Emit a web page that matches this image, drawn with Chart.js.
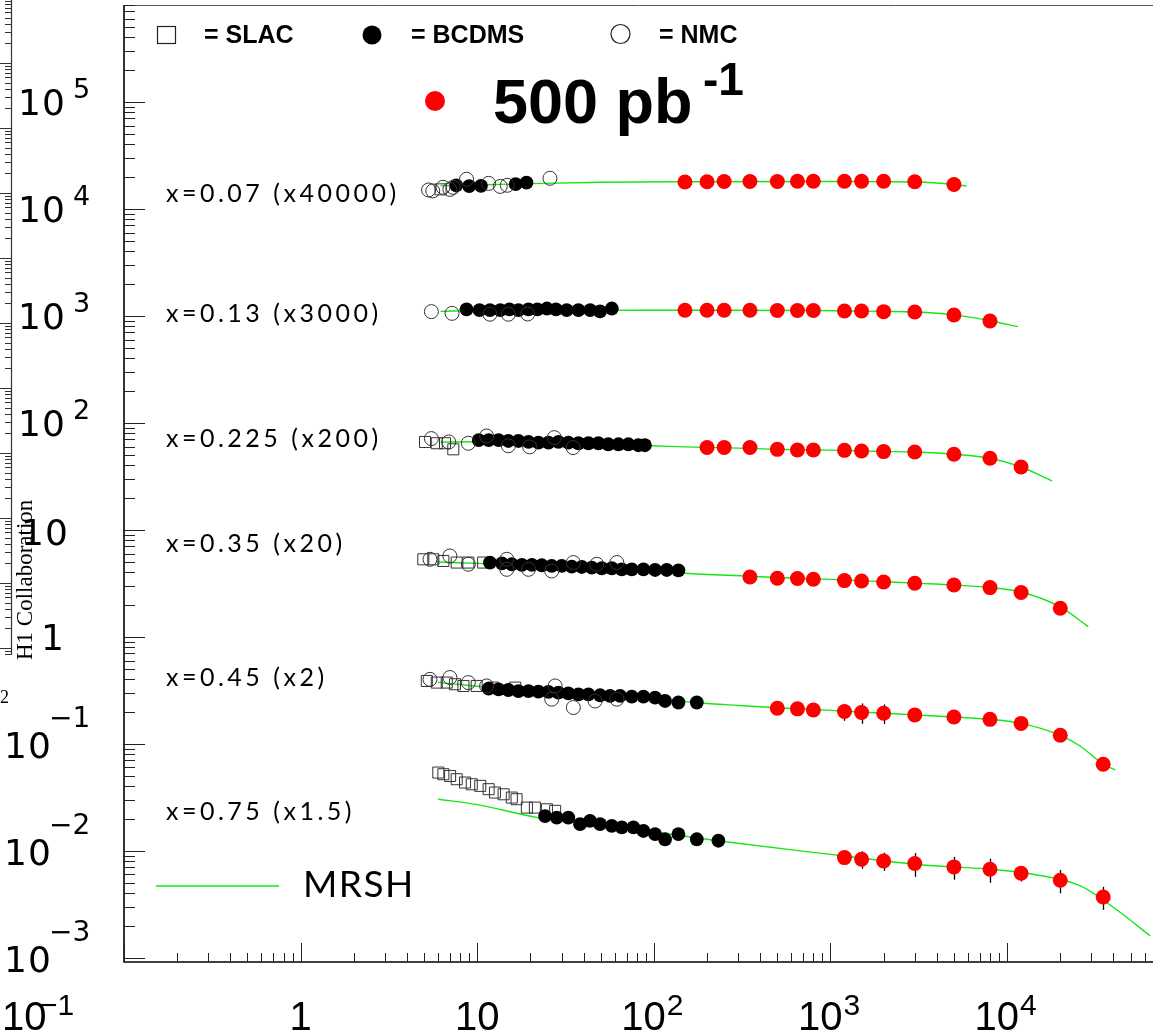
<!DOCTYPE html>
<html><head><meta charset="utf-8">
<script src="https://cdn.jsdelivr.net/npm/chart.js@4/dist/chart.umd.min.js"></script>
<style>html,body{margin:0;padding:0;background:#fff;overflow:hidden}canvas{display:block}</style>
</head><body><canvas id="c" width="1153" height="1035"></canvas>
<script>
// ---------------- DATA ----------------
const ROW_LABELS = ['x=0.07 (x40000)','x=0.13 (x3000)','x=0.225 (x200)','x=0.35 (x20)','x=0.45 (x2)','x=0.75 (x1.5)'];
const Y_TICK_EXP = [-3,-2,-1,0,1,2,3,4,5];
const X_TICK_EXP = [-1,0,1,2,3,4];
const LEGEND_TEXT = ['= SLAC','= BCDMS','= NMC'];
const LUMI_TEXT = ['500 pb','-1'];
const CURVE_LABEL = 'MRSH';

// H1 500 pb^-1 (red)
const H1_Q2_R1 = [150,200,250,350,500,650,800,1200,1500,2000,3000,5000];
const H1_F2_R1 = [17800,17900,18000,18000,18000,18100,18100,18100,18100,18100,17900,16900];
const H1_Q2_R2 = [150,200,250,350,500,650,800,1200,1500,2000,3000,5000,8000];
const H1_F2_R2 = [1126,1126,1126,1126,1120,1120,1120,1109,1109,1094,1085,1017,894];
const H1_Q2_R3 = [200,250,350,500,650,800,1200,1500,2000,3000,5000,8000,12000];
const H1_F2_R3 = [58.7,58.7,58.7,56.5,55.7,55.7,55.3,54.5,53.8,53.3,50.8,46.6,38.6];
const H1_Q2_R4 = [350,500,650,800,1200,1500,2000,3000,5000,8000,12000,20000];
const H1_F2_R4 = [3.62,3.52,3.50,3.45,3.35,3.32,3.25,3.16,3.05,2.88,2.59,1.85];
const H1_Q2_R5 = [500,650,800,1200,1500,2000,3000,5000,8000,12000,20000,35000];
const H1_F2_R5 = [0.215,0.212,0.207,0.200,0.196,0.193,0.186,0.178,0.169,0.155,0.120,0.0643];
const H1_ERR_R5 = [0.005,0.005,0.005,0.036,0.042,0.040,0.02,0.02,0.02,0.015,0.012,0.006];
const H1_Q2_R6 = [1200,1500,2000,3000,5000,8000,12000,20000,35000];
const H1_F2_R6 = [0.00863,0.00833,0.00803,0.00760,0.00706,0.00672,0.00616,0.00530,0.00370];
const H1_ERR_R6 = [0.0008,0.00155,0.00155,0.0019,0.0017,0.0017,0.0010,0.0013,0.0009];

// BCDMS (filled black)
const BCDMS_R1 = [[7.6,16600],[9.0,16300],[10.5,16400],[16.5,17000],[19.0,17600]];
const BCDMS_R2 = [[8.7,1150],[10.3,1130],[11.8,1130],[13.5,1130],[15.2,1150],[17.1,1130],[19.5,1150],[21.9,1150],[24.8,1170],[27.9,1150],[32.1,1130],[37.4,1130],[43.6,1130],[49.6,1100],[57.8,1170]];
const BCDMS_R3 = [[10.2,69.0],[11.6,69.0],[13.2,69.0],[15.0,67.6],[17.1,67.6],[19.5,66.2],[22.2,65.3],[25.3,65.3],[28.8,66.2],[32.8,65.3],[37.4,64.4],[42.6,64.4],[48.5,64.4],[55.2,63.0],[63.0,63.0],[71.7,63.0],[81.7,61.7],[89,61.7]];
const BCDMS_R4 = [[11.8,4.94],[13.8,4.86],[15.7,4.76],[17.9,4.69],[20.4,4.69],[23.2,4.66],[26.4,4.59],[30.1,4.59],[34.3,4.53],[39.1,4.49],[44.5,4.43],[50.7,4.37],[57.8,4.37],[65.8,4.27],[75,4.27],[87.3,4.27],[101.6,4.21],[118.3,4.21],[137.7,4.18]];
const BCDMS_R5 = [[11.6,0.328],[13.2,0.323],[15.0,0.318],[17.1,0.311],[19.5,0.311],[22.2,0.307],[25.3,0.305],[28.8,0.301],[32.8,0.296],[37.4,0.290],[42.6,0.290],[49.6,0.284],[56.5,0.280],[64.4,0.280],[75,0.276],[87.3,0.276],[101.6,0.270],[115.7,0.251],[137.7,0.243],[175,0.243]];
const BCDMS_R6 = [[24.2,0.0211],[28.2,0.0204],[32.8,0.0204],[38.2,0.0177],[43.5,0.0190],[49.6,0.0177],[57.8,0.0171],[65.8,0.0165],[76.6,0.0165],[87.3,0.0153],[101.6,0.0143],[115.7,0.0128],[137.7,0.0143],[175,0.0128],[232,0.0124]];

// NMC (open circles)
const NMC_R1 = [[5.3,15000],[5.6,14700],[6.4,15900],[7.3,15900],[8.7,18900],[7.0,15200],[11.6,17300],[13.5,16200],[14.8,16600],[25.8,19300]];
const NMC_R2 = [[5.5,1094],[7.2,1055],[11.8,1035],[15.0,1035],[19.3,1040]];
const NMC_R3 = [[5.5,71.2],[6.9,66.2],[8.9,64.4],[11.3,75.3],[15.0,61],[19.8,59.6],[27.3,72.7],[34.9,58.7]];
const NMC_R4 = [[5.4,5.30],[7.0,5.69],[8.9,4.76],[14.7,5.30],[14.7,4.27],[19.5,4.27],[26.4,4.12],[35,4.94],[47.5,4.76],[61.7,4.94]];
const NMC_R5 = [[5.4,0.40],[7.0,0.416],[8.9,0.373],[11.3,0.347],[27.6,0.347],[26.4,0.261],[35,0.218],[46.5,0.251],[61.7,0.261]];

// SLAC (open squares)
const SLAC_R1 = [[6.2,15200]];
const SLAC_R3 = [[5.06,66.2],[5.9,64.4],[6.57,64.4],[7.32,56.5]];
const SLAC_R4 = [[4.95,5.30],[5.64,5.30],[6.43,5.11],[7.65,4.94],[8.91,4.94],[10.8,4.94]];
const SLAC_R5 = [[5.18,0.386],[5.9,0.373],[6.72,0.373],[7.48,0.36],[8.35,0.347],[9.93,0.347],[12.3,0.335],[16.4,0.335]];
const SLAC_R6 = [[6.02,0.0538],[6.43,0.0519],[7.02,0.0500],[7.65,0.0466],[8.53,0.0434],[9.31,0.0418],[10.4,0.0404],[11.6,0.0376],[12.6,0.0350],[14.1,0.0337],[15.7,0.0314],[16.7,0.0303],[19.1,0.0253],[21.2,0.0253],[24.8,0.0244],[27.6,0.0236]];

// MRSH fit curves (green)
const MRSH_R1 = [[6.2,16400],[10,16700],[20,17200],[50,17700],[150,17900],[1000,18000],[2000,17900],[3000,17800],[5000,16900],[5900,16350]];
const MRSH_R2 = [[6.2,1100],[10,1120],[50,1125],[150,1126],[800,1120],[2000,1100],[3000,1085],[5000,1020],[8000,900],[11500,792]];
const MRSH_R3 = [[6.2,66],[10,66.5],[20,65],[50,62.5],[100,61],[150,59.5],[300,58],[500,56.5],[1000,55.5],[2000,54],[3000,53.3],[5000,50.8],[8000,46.6],[12000,38.6],[18000,28.6]];
const MRSH_R4 = [[6,5.0],[10,4.85],[20,4.6],[50,4.35],[100,4.1],[150,3.92],[350,3.68],[500,3.58],[1000,3.44],[2000,3.27],[3000,3.17],[5000,3.05],[8000,2.88],[12000,2.62],[20000,1.9],[28800,1.245]];
const MRSH_R5 = [[6,0.375],[10,0.345],[20,0.31],[50,0.285],[100,0.265],[175,0.242],[300,0.228],[500,0.217],[1000,0.205],[2000,0.193],[3000,0.186],[5000,0.178],[8000,0.169],[12000,0.155],[20000,0.120],[25900,0.0953],[35000,0.0643],[40900,0.0569]];
const MRSH_R6 = [[6,0.0303],[10,0.0270],[22,0.0204],[50,0.0172],[100,0.0150],[230,0.0124],[673,0.00996],[1200,0.00893],[3000,0.00748],[5000,0.00706],[8000,0.00672],[14000,0.00603],[26000,0.00469],[43600,0.00266],[64500,0.0016]];

// ---------------- BUILD ----------------
const toPts = (q, f) => q.map((v, i) => ({x: v, y: f[i]}));
const fromPairs = a => a.map(([x, y]) => ({x, y}));

const H1_SETS = [[H1_Q2_R1,H1_F2_R1,null],[H1_Q2_R2,H1_F2_R2,null],[H1_Q2_R3,H1_F2_R3,null],[H1_Q2_R4,H1_F2_R4,null],[H1_Q2_R5,H1_F2_R5,H1_ERR_R5],[H1_Q2_R6,H1_F2_R6,H1_ERR_R6]];
const datasets = [];
[MRSH_R1,MRSH_R2,MRSH_R3,MRSH_R4,MRSH_R5,MRSH_R6].forEach(c => datasets.push({
  data: fromPairs(c), showLine: true, borderColor: '#14e814', borderWidth: 1.4,
  pointRadius: 0, cubicInterpolationMode: 'monotone', fill: false, order: 6
}));
[SLAC_R1,SLAC_R3,SLAC_R4,SLAC_R5,SLAC_R6].forEach(d => datasets.push({
  data: fromPairs(d), pointStyle: 'rect', pointRadius: 7.8, borderColor: '#333', borderWidth: 1,
  backgroundColor: 'rgba(0,0,0,0)', order: 4
}));
[BCDMS_R1,BCDMS_R2,BCDMS_R3,BCDMS_R4,BCDMS_R5,BCDMS_R6].forEach(d => datasets.push({
  data: fromPairs(d), pointStyle: 'circle', pointRadius: 6.9, borderWidth: 0,
  backgroundColor: '#000', borderColor: '#000', order: 3
}));
[NMC_R1,NMC_R2,NMC_R3,NMC_R4,NMC_R5].forEach(d => datasets.push({
  data: fromPairs(d), pointStyle: 'circle', pointRadius: 7, borderColor: '#333', borderWidth: 1,
  backgroundColor: 'rgba(0,0,0,0)', order: 2
}));
H1_SETS.forEach(([q, f]) => datasets.push({
  data: toPts(q, f), pointStyle: 'circle', pointRadius: 7.5, borderWidth: 0,
  backgroundColor: '#ff0000', borderColor: '#ff0000', order: 1
}));

function textLS(ctx, s, x, y, ls) {
  ctx.letterSpacing = ls + 'px';
  ctx.fillText(s, x, y);
  ctx.letterSpacing = '0px';
}

const decor = {
  id: 'decor',
  beforeDatasetsDraw(chart) {
    const {ctx, scales: {x, y}} = chart;
    ctx.save();
    ctx.strokeStyle = '#000'; ctx.lineWidth = 1.3;
    H1_SETS.forEach(([q, f, e]) => {
      if (!e) return;
      q.forEach((v, i) => {
        const px = Math.round(x.getPixelForValue(v)) + 0.5;
        ctx.beginPath();
        ctx.moveTo(px, y.getPixelForValue(f[i] + e[i]));
        ctx.lineTo(px, y.getPixelForValue(f[i] - e[i]));
        ctx.stroke();
      });
    });
    ctx.restore();
  },
  afterDraw(chart) {
    const {ctx, chartArea: a, scales: {x, y}} = chart;
    ctx.save();
    // frame
    ctx.strokeStyle = '#555'; ctx.lineWidth = 1;
    ctx.beginPath(); ctx.moveTo(a.left, a.top + 0.5); ctx.lineTo(a.right, a.top + 0.5); ctx.stroke();
    ctx.strokeStyle = '#000'; ctx.lineWidth = 1.6;
    ctx.beginPath(); ctx.moveTo(a.left, a.top); ctx.lineTo(a.left, a.bottom); ctx.lineTo(a.right, a.bottom); ctx.stroke();
    // ticks
    ctx.lineWidth = 1;
    ctx.strokeStyle = '#222';
    for (let e = -4; e <= 6; e++) for (let m = 1; m <= 9; m++) {
      const v = m * Math.pow(10, e);
      if (v >= y.min && v <= y.max) {
        const py = Math.round(y.getPixelForValue(v)) + 0.5;
        ctx.beginPath(); ctx.moveTo(a.left, py); ctx.lineTo(a.left + (m === 1 ? 21 : 11), py); ctx.stroke();
      }
      if (v >= x.min && v <= x.max) {
        const px = Math.round(x.getPixelForValue(v)) + 0.5;
        ctx.beginPath(); ctx.moveTo(px, a.bottom); ctx.lineTo(px, a.bottom - (m === 1 ? 19 : 9)); ctx.stroke();
      }
    }
    // remnant axis at far left
    ctx.strokeStyle = '#333'; ctx.lineWidth = 1.2;
    ctx.beginPath(); ctx.moveTo(11.5, 0); ctx.lineTo(11.5, 655); ctx.stroke();
    ctx.lineWidth = 1;
    for (let k = -1; k <= 9; k++) {
      const base = 63 + 65 * k;
      for (let m = 1; m <= 9; m++) {
        const py = Math.round(base + 65 - 65 * Math.log10(m)) + 0.5;
        if (py < 0 || py > 655) continue;
        ctx.beginPath(); ctx.moveTo(m === 1 ? 0 : 5, py); ctx.lineTo(11.5, py); ctx.stroke();
      }
    }

    ctx.fillStyle = '#000';
    ctx.textBaseline = 'alphabetic';
    ctx.textAlign = 'left';
    // y tick labels
    Y_TICK_EXP.forEach(e => {
      const ty = y.getPixelForValue(Math.pow(10, e));
      ctx.font = '36px "DejaVu Sans"';
      if (e >= 2) {
        textLS(ctx, '10', 18, ty + 13, 1);
        ctx.font = '27px "DejaVu Sans"';
        ctx.fillText(String(e), 73, ty - 4);
      } else if (e === 1) {
        textLS(ctx, '10', 21, ty + 15, 1);
      } else if (e === 0) {
        ctx.fillText('1', 41, ty + 13);
      } else {
        textLS(ctx, '10', 4, ty + 14, 1);
        ctx.font = '28px "DejaVu Sans"';
        ctx.fillText('\u2212' + String(-e), 49, ty - 17);
      }
    });
    // x tick labels
    X_TICK_EXP.forEach(e => {
      const tx = x.getPixelForValue(Math.pow(10, e));
      const bf = '40px "Liberation Sans Narrow", "Arial Narrow", sans-serif';
      const ef = '30px "Liberation Sans Narrow", "Arial Narrow", sans-serif';
      ctx.font = bf;
      if (e === 0) { ctx.textAlign = 'center'; ctx.fillText('1', tx, 1030); ctx.textAlign = 'left'; }
      else if (e === 1) { ctx.textAlign = 'center'; ctx.fillText('10', tx, 1030); ctx.textAlign = 'left'; }
      else if (e > 1) {
        ctx.textAlign = 'right'; ctx.fillText('10', tx + 12, 1030); ctx.textAlign = 'left';
        ctx.font = ef; ctx.fillText(String(e), tx + 13, 1015);
      } else {
        ctx.fillText('10', 2, 1030);
        ctx.font = ef; ctx.fillText('\u2212' + String(-e), 40, 1015);
      }
    });

    // top legend
    ctx.strokeStyle = '#222'; ctx.lineWidth = 1.2;
    ctx.strokeRect(157.5, 26.5, 18, 17);
    ctx.beginPath(); ctx.arc(372, 35, 9.5, 0, Math.PI * 2); ctx.fill();
    ctx.beginPath(); ctx.arc(620.5, 34, 9.5, 0, Math.PI * 2); ctx.stroke();
    ctx.font = 'bold 25px "Liberation Sans", Arial, sans-serif';
    ctx.fillText(LEGEND_TEXT[0], 204, 43);
    ctx.fillText(LEGEND_TEXT[1], 411, 43);
    ctx.fillText(LEGEND_TEXT[2], 659, 43);
    // luminosity
    ctx.fillStyle = '#ff0000';
    ctx.beginPath(); ctx.arc(435, 101, 10, 0, Math.PI * 2); ctx.fill();
    ctx.fillStyle = '#000';
    ctx.font = 'bold 63px "Liberation Sans", Arial, sans-serif';
    ctx.fillText(LUMI_TEXT[0], 493, 123);
    ctx.font = 'bold 46px "Liberation Sans", Arial, sans-serif';
    ctx.fillText(LUMI_TEXT[1], 703, 95);

    // row labels
    const rowBase = [202, 321.7, 446.7, 551.7, 685.7, 820];
    ctx.font = '400 25px Lato, "DejaVu Sans", sans-serif';
    ROW_LABELS.forEach((s, i) => textLS(ctx, s, 166, rowBase[i], 3.5));

    // MRSH legend
    ctx.strokeStyle = '#14e814'; ctx.lineWidth = 1.5;
    ctx.beginPath(); ctx.moveTo(156, 886); ctx.lineTo(279, 886); ctx.stroke();
    ctx.font = '400 37px Lato, "DejaVu Sans", sans-serif';
    textLS(ctx, CURVE_LABEL, 303, 897, 1.5);

    // side texts
    ctx.save();
    ctx.translate(32, 660); ctx.rotate(-Math.PI / 2);
    ctx.font = '23px "Liberation Serif", "Times New Roman", serif';
    ctx.fillText('H1 Collaboration', 0, 0);
    ctx.restore();
    ctx.font = '18px "Liberation Serif", serif';
    ctx.fillText('2', 0, 703);
    ctx.restore();
  }
};

new Chart(document.getElementById('c'), {
  type: 'scatter',
  data: {datasets},
  options: {
    responsive: false, animation: false, devicePixelRatio: 1, events: [],
    layout: {autoPadding: false, padding: {left: 124, top: 5, right: 0, bottom: 73}},
    plugins: {legend: {display: false}, tooltip: {enabled: false}},
    scales: {
      x: {type: 'logarithmic', min: 0.1, max: 67000, display: false},
      y: {type: 'logarithmic', min: 9.12e-4, max: 8.04e5, display: false}
    }
  },
  plugins: [decor]
});
</script></body></html>
